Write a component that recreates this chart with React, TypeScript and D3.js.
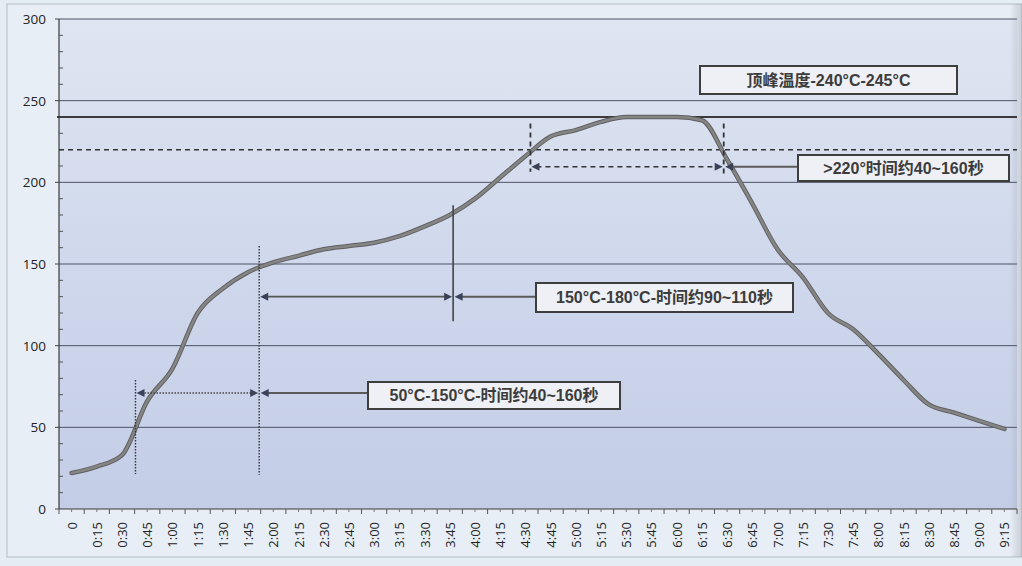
import React from "react";
import * as d3 from "d3";

const timeLabels = [
  "0", "0:15", "0:30", "0:45", "1:00", "1:15", "1:30", "1:45", "2:00", "2:15",
  "2:30", "2:45", "3:00", "3:15", "3:30", "3:45", "4:00", "4:15", "4:30", "4:45",
  "5:00", "5:15", "5:30", "5:45", "6:00", "6:15", "6:30", "6:45", "7:00", "7:15",
  "7:30", "7:45", "8:00", "8:15", "8:30", "8:45", "9:00", "9:15",
];
const timeSeconds = [
  0, 15, 30, 45, 60, 75, 90, 105, 120, 135, 150, 165, 180, 195, 210, 225, 240, 255, 270,
  285, 300, 315, 330, 345, 360, 375, 390, 405, 420, 435, 450, 465, 480, 495, 510, 525, 540, 555,
];
const temperature = [
  22, 26, 33, 66, 86, 120, 135, 145, 151, 155, 159, 161, 163, 167, 173, 180, 190, 203, 216,
  228, 232, 237, 240, 240, 240, 238, 214, 187, 159, 142, 120, 110, 95, 79, 64, 59, 54, 49,
];
const yTicks = [0, 50, 100, 150, 200, 250, 300];
const peakLine = 240;
const liquidusLine = 220;

// annotation values (seconds, °C)
const zone1 = { t0: 38, t1: 111.6, arrowTemp: 71, v0: [79, 21.5], v1: [161, 21] };
const zone2 = { t0: 111.6, t1: 227, arrowTemp: 130, v1: [186, 115] };
const zone3 = { t0: 273, t1: 388, arrowTemp: 209.5, v0: [236, 206.5], v1: [236, 204] };
const labels = [
  "50°C-150°C-时间约40~160秒",
  "150°C-180°C-时间约90~110秒",
  ">220°时间约40~160秒",
  "顶峰温度-240°C-245°C",
];

const W = 1022;
const H = 566;
const plotLeft = 59;
const plotRight = 1017;
const plotTop = 19;
const plotBottom = 509;

export default function App() {
  const band = d3.scaleBand<string>().domain(timeLabels).range([plotLeft, plotRight]).padding(0);
  const bw = band.bandwidth();
  const x = d3
    .scaleLinear()
    .domain([timeSeconds[0], timeSeconds[timeSeconds.length - 1]])
    .range([band(timeLabels[0])! + bw / 2, band(timeLabels[timeLabels.length - 1])! + bw / 2]);
  const y = d3.scaleLinear().domain([0, 300]).range([plotBottom, plotTop]);

  const line = d3
    .line<number>()
    .x((_, i) => x(timeSeconds[i]))
    .y((d) => y(d))
    .curve(d3.curveMonotoneX);
  const pathD = line(temperature) || "";

  const minorY = d3.range(0, 301, 10);
  const boundaries = d3.range(0, timeLabels.length + 1).map((i) => plotLeft + i * bw);

  const arrowColor = "#3b4258";
  const tri = (tx: number, ty: number, dir: number) => {
    const L = 8, hw = 4;
    return `M${tx},${ty}L${tx - dir * L},${ty - hw}L${tx - dir * L},${ty + hw}Z`;
  };

  const boxFont = "'Liberation Sans', Arial, 'Noto Sans CJK SC', sans-serif";
  const Box = ({ x0, x1, y0, y1, text }: any) => (
    <g>
      <rect x={x0} y={y0} width={x1 - x0} height={y1 - y0} fill="#eef0f5" stroke="#3e3e3e" strokeWidth={2} />
      <text
        x={(x0 + x1) / 2}
        y={(y0 + y1) / 2}
        textAnchor="middle"
        dominantBaseline="central"
        fontFamily={boxFont}
        fontWeight={700}
        fontSize={16}
        fill="#3c3c3c"
      >
        {text}
      </text>
    </g>
  );

  const z1a = y(zone1.arrowTemp);
  const z2a = y(zone2.arrowTemp);
  const z3a = y(zone3.arrowTemp);

  return (
    <svg width={W} height={H} style={{ position: "absolute", left: 0, top: 0 }} xmlns="http://www.w3.org/2000/svg">
      <defs>
        <linearGradient id="plotBg" x1="0" y1="0" x2="0" y2="1">
          <stop offset="0" stopColor="#dfe6f2" />
          <stop offset="0.5" stopColor="#cfd8ec" />
          <stop offset="1" stopColor="#c3cde6" />
        </linearGradient>
        <linearGradient id="shade" x1="0" y1="0" x2="1" y2="0">
          <stop offset="0.9" stopColor="#8a8f9a" stopOpacity={0} />
          <stop offset="1" stopColor="#8a8f9a" stopOpacity={0.35} />
        </linearGradient>
      </defs>
      <rect x={0} y={0} width={W} height={H} fill="#e4edf3" />
      <rect x={7} y={4} width={W - 7} height={553} fill="#e8eef5" stroke="#b5bcc6" strokeWidth={1} />
      <rect x={plotLeft} y={plotTop} width={plotRight - plotLeft} height={plotBottom - plotTop} fill="url(#plotBg)" />
      <rect x={900} y={4} width={122} height={553} fill="url(#shade)" />

      {/* gridlines */}
      {yTicks.filter((t) => t > 0).map((t) => (
        <line key={t} x1={plotLeft} x2={plotRight} y1={y(t)} y2={y(t)} stroke="#4c5264" strokeWidth={1} />
      ))}

      {/* y axis */}
      <line x1={plotLeft} x2={plotLeft} y1={plotTop} y2={plotBottom} stroke="#3a3a3a" strokeWidth={1.2} />
      {minorY.map((t) => (
        <line key={t} x1={plotLeft} x2={plotLeft + (t % 50 === 0 ? 0 : 4)} y1={y(t)} y2={y(t)} stroke="#555" strokeWidth={1} />
      ))}
      {yTicks.map((t) => (
        <g key={t}>
          <line x1={plotLeft - 4} x2={plotLeft} y1={y(t)} y2={y(t)} stroke="#444" />
          <text x={46} y={y(t)} textAnchor="end" dominantBaseline="central" fontFamily="'Open Sans', sans-serif" fontSize={13.5} fill="#222">
            {t}
          </text>
        </g>
      ))}

      {/* x axis */}
      <line x1={plotLeft} x2={plotRight} y1={plotBottom} y2={plotBottom} stroke="#3a3a3a" strokeWidth={1.2} />
      {boundaries.map((bx, i) => (
        <line key={"b" + i} x1={bx} x2={bx} y1={plotBottom} y2={plotBottom + 5} stroke="#555" />
      ))}
      {timeLabels.map((l) => (
        <line key={"c" + l} x1={band(l)! + bw / 2} x2={band(l)! + bw / 2} y1={plotBottom} y2={plotBottom + 3} stroke="#777" />
      ))}
      {timeLabels.map((l) => {
        const cx = band(l)! + bw / 2;
        return (
          <text
            key={l}
            transform={`translate(${cx},${plotBottom + 13}) rotate(-90)`}
            textAnchor="end"
            dominantBaseline="central"
            fontFamily="'Open Sans', sans-serif"
            fontSize={13}
            fill="#222"
          >
            {l}
          </text>
        );
      })}

      {/* peak and 220 lines */}
      <line x1={plotLeft - 2} x2={plotRight} y1={y(peakLine)} y2={y(peakLine)} stroke="#3a3a3a" strokeWidth={2} />
      <line x1={plotLeft} x2={plotRight} y1={y(liquidusLine)} y2={y(liquidusLine)} stroke="#333" strokeWidth={1.5} strokeDasharray="5,4" />

      {/* curve */}
      <path d={pathD} fill="none" stroke="#5f5f5f" strokeWidth={4.5} strokeLinejoin="round" strokeLinecap="round" />
      <path d={pathD} fill="none" stroke="#858585" strokeWidth={2.6} strokeLinejoin="round" strokeLinecap="round" />

      {/* zone 1: 50-150 */}
      <line x1={x(zone1.t0)} x2={x(zone1.t0)} y1={y(zone1.v0[0])} y2={y(zone1.v0[1])} stroke="#333" strokeWidth={1.4} strokeDasharray="1.5,1.5" />
      <line x1={x(zone1.t1)} x2={x(zone1.t1)} y1={y(zone1.v1[0])} y2={y(zone1.v1[1])} stroke="#333" strokeWidth={1.4} strokeDasharray="1.5,1.5" />
      <line x1={x(zone1.t0) + 6} x2={x(zone1.t1) - 6} y1={z1a} y2={z1a} stroke="#444" strokeWidth={1.4} strokeDasharray="1.5,1.5" />
      <path d={tri(x(zone1.t0) + 1, z1a, -1)} fill={arrowColor} />
      <path d={tri(x(zone1.t1) - 1, z1a, 1)} fill={arrowColor} />
      <line x1={x(zone1.t1) + 8} x2={368} y1={z1a} y2={z1a} stroke="#5a5a5a" strokeWidth={2} />
      <path d={tri(x(zone1.t1) + 1.5, z1a, -1)} fill={arrowColor} />
      <Box x0={368} x1={620} y0={382} y1={409} text={labels[0]} />

      {/* zone 2: 150-180 */}
      <line x1={x(zone2.t1)} x2={x(zone2.t1)} y1={y(zone2.v1[0])} y2={y(zone2.v1[1])} stroke="#444" strokeWidth={1.6} />
      <line x1={x(zone2.t0) + 6} x2={x(zone2.t1) - 6} y1={z2a} y2={z2a} stroke="#555" strokeWidth={1.8} />
      <path d={tri(x(zone2.t0) + 1, z2a, -1)} fill={arrowColor} />
      <path d={tri(x(zone2.t1) - 1, z2a, 1)} fill={arrowColor} />
      <line x1={x(zone2.t1) + 8} x2={536} y1={z2a} y2={z2a} stroke="#5a5a5a" strokeWidth={2} />
      <path d={tri(x(zone2.t1) + 1.5, z2a, -1)} fill={arrowColor} />
      <Box x0={536} x1={793} y0={283} y1={312} text={labels[1]} />

      {/* zone 3: >220 */}
      <line x1={x(zone3.t0)} x2={x(zone3.t0)} y1={y(zone3.v0[0])} y2={y(zone3.v0[1])} stroke="#333" strokeWidth={1.8} strokeDasharray="5,4" />
      <line x1={x(zone3.t1)} x2={x(zone3.t1)} y1={y(zone3.v1[0])} y2={y(zone3.v1[1])} stroke="#333" strokeWidth={1.8} strokeDasharray="5,4" />
      <line x1={x(zone3.t0) + 6} x2={x(zone3.t1) - 6} y1={z3a} y2={z3a} stroke="#333" strokeWidth={1.6} strokeDasharray="5,4" />
      <path d={tri(x(zone3.t0) + 1, z3a, -1)} fill={arrowColor} />
      <path d={tri(x(zone3.t1) - 1, z3a, 1)} fill={arrowColor} />
      <line x1={x(zone3.t1) + 8} x2={798} y1={z3a} y2={z3a} stroke="#5a5a5a" strokeWidth={2} />
      <path d={tri(x(zone3.t1) + 1.5, z3a, -1)} fill={arrowColor} />
      <Box x0={798} x1={1009} y0={155} y1={181} text={labels[2]} />

      {/* peak label */}
      <Box x0={700} x1={957} y0={66} y1={94} text={labels[3]} />
    </svg>
  );
}
